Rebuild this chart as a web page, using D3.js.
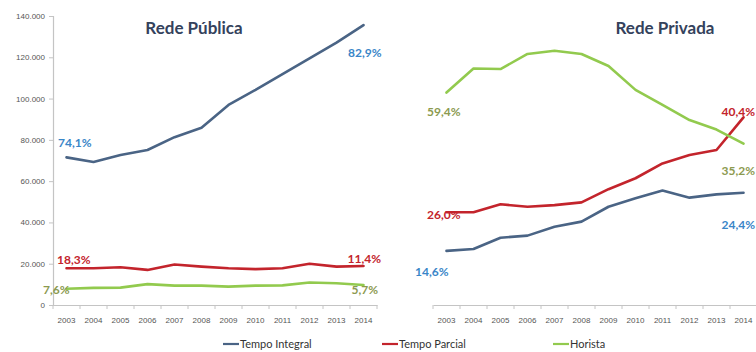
<!DOCTYPE html>
<html>
<head>
<meta charset="utf-8">
<script src="https://cdn.jsdelivr.net/npm/d3@7"></script>
<style>
  html, body { margin: 0; padding: 0; background: #fff; }
  svg { display: block; font-family: Lato, "Open Sans", sans-serif; }
</style>
</head>
<body>
<svg id="chart" width="756" height="352"></svg>
<script>
// Docentes por regime de trabalho, 2003–2014
const years = [2003, 2004, 2005, 2006, 2007, 2008, 2009, 2010, 2011, 2012, 2013, 2014];

const publicaIntegral = [71500, 69300, 72700, 75100, 81300, 85900, 96900, 104200, 111900, 119500, 127100, 135600];
const publicaParcial  = [17800, 17800, 18300, 17000, 19600, 18600, 17800, 17400, 17800, 20000, 18600, 18900];
const publicaHorista  = [7900, 8300, 8400, 10100, 9400, 9400, 8900, 9400, 9500, 10900, 10500, 9700];

const privadaIntegral = [26200, 27100, 32600, 33600, 37900, 40400, 47600, 51700, 55500, 52000, 53600, 54400];
const privadaParcial  = [44900, 44900, 48800, 47600, 48400, 49700, 56100, 61400, 68600, 72700, 75100, 90900];
const privadaHorista  = [102900, 114600, 114300, 121600, 123200, 121600, 115800, 104200, 96900, 89600, 85000, 78200];

const yTicks = [0, 20000, 40000, 60000, 80000, 100000, 120000, 140000];

const seriesNames = ["Tempo Integral", "Tempo Parcial", "Horista"];
const lineColors  = ["#4a6485", "#c3242c", "#92ca4e"];
const labelColors = ["#3a86c8", "#c3242c", "#8c9a50"];

// Share labels at the first and last year of each series
const publicaLabels = [
  { s: 0, text: "74,1%", x: 58,  y: 143, anchor: "start" },
  { s: 0, text: "82,9%", x: 348, y: 53,  anchor: "start" },
  { s: 1, text: "18,3%", x: 57,  y: 260, anchor: "start" },
  { s: 1, text: "11,4%", x: 381, y: 259, anchor: "end" },
  { s: 2, text: "7,6%",  x: 43,  y: 290, anchor: "start" },
  { s: 2, text: "5,7%",  x: 378, y: 290, anchor: "end" }
];
const privadaLabels = [
  { s: 2, text: "59,4%", x: 427, y: 112, anchor: "start" },
  { s: 1, text: "40,4%", x: 755, y: 112, anchor: "end" },
  { s: 2, text: "35,2%", x: 755, y: 171, anchor: "end" },
  { s: 1, text: "26,0%", x: 427, y: 215, anchor: "start" },
  { s: 0, text: "14,6%", x: 415, y: 272, anchor: "start" },
  { s: 0, text: "24,4%", x: 755, y: 225, anchor: "end" }
];

// Brazilian number format: "." as thousands separator
const ptBR = d3.formatLocale({ decimal: ",", thousands: ".", grouping: [3], currency: ["R$", ""] });
const tickFmt = ptBR.format(",");

const svg = d3.select("#chart");
const y = d3.scaleLinear().domain([0, 140000]).range([305, 16]);

function panel(opts) {
  const g = svg.append("g");
  const x = d3.scaleBand().domain(years).range([opts.x0, opts.x1]).padding(0);
  const bw = x.bandwidth();
  const cx = d => x(d) + bw / 2;

  // category axis
  const xAxis = g.append("g").attr("transform", "translate(0,305)")
    .call(d3.axisBottom(x).tickSize(0).tickPadding(12));
  xAxis.select(".domain").attr("stroke", "#c4c4c4").attr("stroke-width", 1.2);
  xAxis.selectAll("text").attr("font-size", 8).attr("fill", "#555");

  // tick marks between categories
  g.append("g").selectAll("line")
    .data(years.concat([null]))
    .join("line")
    .attr("x1", (d, i) => opts.x0 + i * bw)
    .attr("x2", (d, i) => opts.x0 + i * bw)
    .attr("y1", 305).attr("y2", 309)
    .attr("stroke", "#c4c4c4").attr("stroke-width", 1);

  if (opts.yAxis) {
    const yAxis = g.append("g").attr("transform", `translate(${opts.x0},0)`)
      .call(d3.axisLeft(y).tickValues(yTicks).tickFormat(tickFmt).tickSize(4).tickPadding(4));
    yAxis.select(".domain").attr("stroke", "#c4c4c4").attr("stroke-width", 1.2);
    yAxis.selectAll(".tick line").attr("stroke", "#c4c4c4");
    yAxis.selectAll("text").attr("font-size", 8).attr("fill", "#555");
  }

  const line = d3.line().x((d, i) => cx(years[i])).y(d => y(d));
  opts.series.forEach((vals, s) => {
    g.append("path")
      .datum(vals)
      .attr("d", line)
      .attr("fill", "none")
      .attr("stroke", lineColors[s])
      .attr("stroke-width", 2.6)
      .attr("stroke-linejoin", "round")
      .attr("stroke-linecap", "round");
  });

  g.append("g").selectAll("text")
    .data(opts.labels)
    .join("text")
    .attr("x", d => d.x)
    .attr("y", d => d.y)
    .attr("dy", "0.35em")
    .attr("text-anchor", d => d.anchor)
    .attr("font-size", 12)
    .attr("font-weight", 700)
    .attr("fill", d => labelColors[d.s])
    .text(d => d.text);

  g.append("text")
    .attr("x", opts.titleX).attr("y", 28).attr("dy", "0.35em")
    .attr("text-anchor", "middle")
    .attr("font-size", 17).attr("font-weight", 700)
    .attr("fill", "#34425c")
    .text(opts.title);
}

panel({
  x0: 53, x1: 377, yAxis: true, title: "Rede Pública", titleX: 194,
  series: [publicaIntegral, publicaParcial, publicaHorista], labels: publicaLabels
});
panel({
  x0: 433, x1: 757, yAxis: false, title: "Rede Privada", titleX: 665,
  series: [privadaIntegral, privadaParcial, privadaHorista], labels: privadaLabels
});

// legend
const legendX = [223, 382, 553];
const legend = svg.append("g").selectAll("g")
  .data(seriesNames)
  .join("g")
  .attr("transform", (d, i) => `translate(${legendX[i]},344)`);
legend.append("line")
  .attr("x1", 0).attr("x2", 16).attr("y1", 0).attr("y2", 0)
  .attr("stroke", (d, i) => lineColors[i]).attr("stroke-width", 2.2);
legend.append("text")
  .attr("x", 17).attr("y", 0).attr("dy", "0.35em")
  .attr("font-size", 11).attr("fill", "#333")
  .text(d => d);
</script>
</body>
</html>
